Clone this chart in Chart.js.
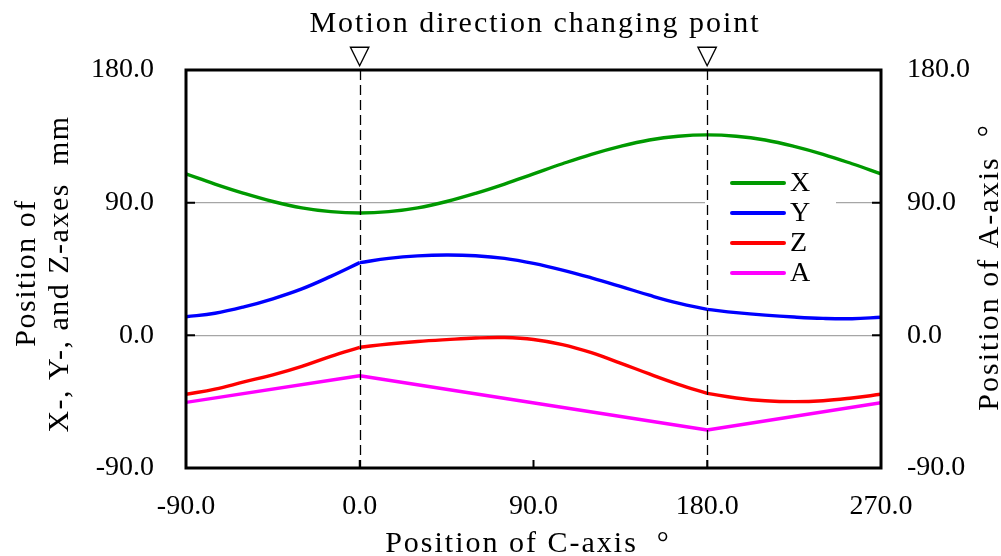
<!DOCTYPE html>
<html>
<head>
<meta charset="utf-8">
<script src="https://cdn.jsdelivr.net/npm/chart.js@4.4.1/dist/chart.umd.min.js"></script>
<style>
  body { margin: 0; background: #fff; }
  #wrap { width: 1001px; height: 556px; }
</style>
</head>
<body>
<div id="wrap"><canvas id="chart"></canvas></div>
<script>
// C-axis angle (deg), sampled every 15 deg
var cAngles = [-90, -75, -60, -45, -30, -15, 0, 15, 30, 45, 60, 75, 90, 105, 120, 135, 150, 165, 180, 195, 210, 225, 240, 255, 270];
// axis positions (mm)
var xPos = [109.5, 102.6, 96.3, 90.8, 86.5, 83.9, 83.0, 83.9, 86.5, 90.8, 96.3, 102.6, 109.5, 116.4, 122.8, 128.2, 132.5, 135.1, 136.0, 135.1, 132.5, 128.2, 122.8, 116.4, 109.5];
var yPos = [12.6, 15.0, 19.3, 24.8, 31.5, 40.0, 49.3, 52.2, 53.9, 54.5, 54.0, 52.2, 48.8, 44.3, 39.0, 33.2, 27.2, 21.8, 17.6, 15.4, 13.7, 12.4, 11.5, 11.3, 12.3];
var zPos = [-40.0, -36.5, -31.6, -26.8, -21.0, -14.2, -8.1, -5.9, -4.2, -2.9, -1.8, -1.5, -2.8, -6.3, -11.8, -18.8, -26.2, -33.2, -39.4, -42.5, -44.4, -45.0, -44.4, -42.5, -40.0];
// A-axis is linear between the turning points (deg)
var aAngles = [-90, 0, 180, 270];
var aPos = [-45.5, -27.4, -64.2, -45.7];
// motion direction changing points
var turnPoints = [0, 180];

var colors = { X: '#009900', Y: '#0000ff', Z: '#ff0000', A: '#ff00ff' };
var legendItems = ['X', 'Y', 'Z', 'A'];
var serif = '"Liberation Serif", "Times New Roman", serif';

function pts(xs, ys) {
    return xs.map(function(v, i) { return { x: v, y: ys[i] }; });
}

// split a series at the changing points so the kinks stay sharp
function phases(values, label) {
    var out = [];
    var bounds = [-90].concat(turnPoints).concat([270]);
    for (var k = 0; k < bounds.length - 1; k++) {
        var xs = [], ys = [];
        cAngles.forEach(function(c, i) {
            if (c >= bounds[k] && c <= bounds[k + 1]) { xs.push(c); ys.push(values[i]); }
        });
        out.push(lineSet(label, pts(xs, ys), 'y'));
    }
    return out;
}

function lineSet(label, data, axis) {
    return {
        label: label,
        data: data,
        yAxisID: axis,
        borderColor: colors[label],
        borderWidth: 3.4,
        borderJoinStyle: 'round',
        pointRadius: 0,
        fill: false,
        tension: 0.4
    };
}

var datasets = [lineSet('X', pts(cAngles, xPos), 'y')]
    .concat(phases(yPos, 'Y'))
    .concat(phases(zPos, 'Z'));
var aSet = lineSet('A', pts(aAngles, aPos), 'y2');
aSet.tension = 0;
datasets.push(aSet);

var decorPlugin = {
    id: 'decor',
    afterDraw: function(chart) {
        var ctx = chart.ctx, area = chart.chartArea;
        var sx = chart.scales.x, sy = chart.scales.y, sy2 = chart.scales.y2;
        ctx.save();

        // legend
        ctx.fillStyle = '#fff';
        ctx.fillRect(705, 166, 131, 124);
        ctx.font = '28px ' + serif;
        ctx.textBaseline = 'middle';
        ctx.textAlign = 'left';
        legendItems.forEach(function(name, i) {
            var ly = 183 + i * 30;
            ctx.strokeStyle = colors[name];
            ctx.lineWidth = 4;
            ctx.lineCap = 'round';
            ctx.beginPath();
            ctx.moveTo(732, ly);
            ctx.lineTo(784, ly);
            ctx.stroke();
            ctx.fillStyle = '#000';
            ctx.fillText(name, 790, ly + 1);
        });
        ctx.lineCap = 'butt';

        // dashed lines at the changing points
        ctx.strokeStyle = '#000';
        ctx.lineWidth = 1.3;
        ctx.setLineDash([10, 5]);
        turnPoints.forEach(function(v) {
            var px = Math.round(sx.getPixelForValue(v)) + 0.5;
            ctx.beginPath();
            ctx.moveTo(px, area.top);
            ctx.lineTo(px, area.bottom);
            ctx.stroke();
        });
        ctx.setLineDash([]);

        // inward ticks
        ctx.lineWidth = 2;
        [90, 0].forEach(function(v) {
            var py = sy.getPixelForValue(v);
            ctx.beginPath();
            ctx.moveTo(area.left, py); ctx.lineTo(area.left + 9, py);
            py = sy2.getPixelForValue(v);
            ctx.moveTo(area.right, py); ctx.lineTo(area.right - 9, py);
            ctx.stroke();
        });
        [0, 90, 180].forEach(function(v) {
            var px = sx.getPixelForValue(v);
            ctx.beginPath();
            ctx.moveTo(px, area.bottom); ctx.lineTo(px, area.bottom - 8);
            ctx.stroke();
        });

        // frame
        ctx.lineWidth = 3;
        ctx.strokeRect(area.left, area.top, area.right - area.left, area.bottom - area.top);

        // markers above the changing points
        ctx.fillStyle = '#000';
        ctx.font = '27px "DejaVu Sans"';
        ctx.textAlign = 'center';
        ctx.textBaseline = 'alphabetic';
        turnPoints.forEach(function(v) {
            ctx.fillText('\u25BD', sx.getPixelForValue(v), 64);
        });

        // titles
        ctx.font = '30px ' + serif;
        ctx.letterSpacing = '2px';
        ctx.fillText('Motion direction changing point', 535, 32);
        ctx.fillText('Position of C-axis  \u00B0', 528, 552);

        ctx.letterSpacing = '1.5px';
        ctx.save();
        ctx.translate(35, 273);
        ctx.rotate(-Math.PI / 2);
        ctx.fillText('Position of', 0, 0);
        ctx.restore();

        ctx.save();
        ctx.translate(68, 274);
        ctx.rotate(-Math.PI / 2);
        ctx.fillText('X-, Y-, and Z-axes  mm', 0, 0);
        ctx.restore();

        ctx.letterSpacing = '2px';
        ctx.save();
        ctx.translate(998, 267);
        ctx.rotate(-Math.PI / 2);
        ctx.fillText('Position of A-axis  \u00B0', 0, 0);
        ctx.restore();

        ctx.restore();
    }
};

function gridColor(c) {
    return (c.tick && (c.tick.value === 0 || c.tick.value === 90)) ? '#a6a6a6' : 'rgba(0,0,0,0)';
}

new Chart(document.getElementById('chart'), {
    type: 'line',
    data: { datasets: datasets },
    options: {
        responsive: true,
        maintainAspectRatio: false,
        animation: false,
        layout: { padding: { top: 70, left: 0, right: 0, bottom: 0 } },
        plugins: {
            legend: { display: false },
            tooltip: { enabled: false }
        },
        scales: {
            x: {
                type: 'linear',
                min: -90,
                max: 270,
                grid: { display: false, drawTicks: false },
                border: { display: false },
                ticks: {
                    stepSize: 90,
                    color: '#000',
                    padding: 22,
                    maxRotation: 0,
                    font: { family: serif, size: 28 },
                    callback: function(v) { return v.toFixed(1); }
                },
                afterFit: function(s) { s.height = 88; }
            },
            y: {
                position: 'left',
                min: -90,
                max: 180,
                grid: { color: gridColor, lineWidth: 1.3, drawTicks: false },
                border: { display: false },
                ticks: {
                    stepSize: 90,
                    color: '#000',
                    padding: 32,
                    font: { family: serif, size: 28 },
                    callback: function(v) { return v.toFixed(1); }
                },
                afterFit: function(s) { s.width = 186; }
            },
            y2: {
                position: 'right',
                min: -90,
                max: 180,
                grid: { display: false, drawTicks: false },
                border: { display: false },
                ticks: {
                    stepSize: 90,
                    color: '#000',
                    padding: 26,
                    font: { family: serif, size: 28 },
                    callback: function(v) { return v.toFixed(1); }
                },
                afterFit: function(s) { s.width = 120; }
            }
        }
    },
    plugins: [decorPlugin]
});
</script>
</body>
</html>
